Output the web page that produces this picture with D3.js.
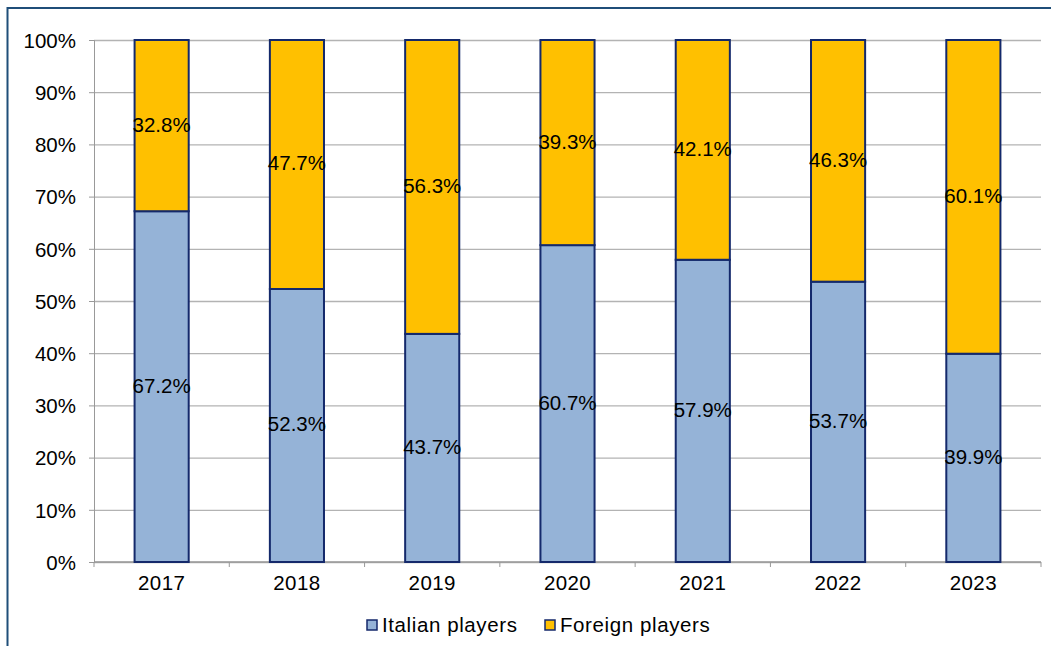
<!DOCTYPE html>
<html>
<head>
<meta charset="utf-8">
<script src="https://cdn.jsdelivr.net/npm/d3@7"></script>
<style>
  body { margin: 0; background: #fff; }
  svg { font-family: "Liberation Sans", Arial, sans-serif; }
</style>
</head>
<body>
<div id="chart"></div>
<script>
// data
var years = ['2017', '2018', '2019', '2020', '2021', '2022', '2023']
var italian = [67.2, 52.3, 43.7, 60.7, 57.9, 53.7, 39.9]
var foreign = [32.8, 47.7, 56.3, 39.3, 42.1, 46.3, 60.1]
var yTicks = [0, 10, 20, 30, 40, 50, 60, 70, 80, 90, 100]
var seriesNames = ['Italian players', 'Foreign players']
var colors = ['#95b3d7', '#ffc000']

var width = 1051
var height = 646
var margin = { top: 40, right: 10, bottom: 84, left: 94 }
var fontSize = '20.5px'

var svg = d3.select("#chart")
  .append("svg")
  .attr("width", width)
  .attr("height", height)

// outer frame
svg.append("rect")
  .attr("x", 7.5)
  .attr("y", 8)
  .attr("width", width)
  .attr("height", height)
  .style("fill", "none")
  .style("stroke", "#1f4e79")
  .style("stroke-width", 2)

var xScale = d3.scaleBand()
  .domain(years)
  .range([margin.left, width - margin.right])
  .paddingInner(0.6)
  .paddingOuter(0.3)

var yScale = d3.scaleLinear()
  .domain([0, 100])
  .range([height - margin.bottom, margin.top])

// grid
var yGrid = d3.axisLeft(yScale)
  .tickValues(yTicks)
  .tickSize(-(width - margin.right - margin.left))
  .tickFormat("")

svg.append("g")
  .attr("transform", `translate(${margin.left},0)`)
  .attr("class", "grid")
  .call(yGrid)
  .call(g => g.select(".domain").remove())
  .selectAll("line")
  .style("stroke", "#b3b3b3")
  .style("stroke-width", 1.3)

// Y axis
var yAxis = d3.axisLeft(yScale)
  .tickValues(yTicks)
  .tickSize(5)
  .tickPadding(13)
  .tickFormat(d => d + '%')

svg.append("g")
  .attr("transform", `translate(${margin.left},0)`)
  .attr("class", "y-axis")
  .call(yAxis)
  .call(g => g.selectAll("line, path").style("stroke", "#999"))
  .selectAll("text")
  .attr("dy", "0.36em")
  .style("font-size", fontSize)
  .style("fill", "#000")

// X axis line with boundary ticks
var xLine = svg.append("g").attr("class", "x-axis")
xLine.append("line")
  .attr("x1", margin.left)
  .attr("x2", width - margin.right)
  .attr("y1", yScale(0))
  .attr("y2", yScale(0))
  .style("stroke", "#999")
  .style("stroke-width", 1.3)

var bounds = d3.range(years.length + 1).map(i => margin.left + i * (width - margin.right - margin.left) / years.length)
xLine.selectAll(".bound")
  .data(bounds)
  .enter()
  .append("line")
  .attr("x1", d => d)
  .attr("x2", d => d)
  .attr("y1", yScale(0))
  .attr("y2", yScale(0) + 5)
  .style("stroke", "#999")

xLine.selectAll(".xlab")
  .data(years)
  .enter()
  .append("text")
  .attr("x", d => xScale(d) + xScale.bandwidth() / 2)
  .attr("y", yScale(0) + 28)
  .attr("text-anchor", "middle")
  .style("font-size", fontSize)
  .style("letter-spacing", "0.4px")
  .text(d => d)

// bars
var rows = years.map((y, i) => ({ year: y, it: italian[i], fo: foreign[i] }))

svg.selectAll(".bar-it")
  .data(rows)
  .enter()
  .append("rect")
  .attr("x", d => xScale(d.year))
  .attr("y", d => yScale(d.it))
  .attr("width", xScale.bandwidth())
  .attr("height", d => yScale(0) - yScale(d.it))
  .style("fill", colors[0])
  .style("stroke", "#14296b")
  .style("stroke-width", 2)

svg.selectAll(".bar-fo")
  .data(rows)
  .enter()
  .append("rect")
  .attr("x", d => xScale(d.year))
  .attr("y", d => yScale(d.it + d.fo))
  .attr("width", xScale.bandwidth())
  .attr("height", d => yScale(d.it) - yScale(d.it + d.fo))
  .style("fill", colors[1])
  .style("stroke", "#14296b")
  .style("stroke-width", 2)

// labels
svg.selectAll(".lab-it")
  .data(rows)
  .enter()
  .append("text")
  .attr("x", d => xScale(d.year) + xScale.bandwidth() / 2)
  .attr("y", d => yScale(d.it / 2) + 6)
  .attr("text-anchor", "middle")
  .style("font-size", fontSize)
  .text(d => d.it.toFixed(1) + '%')

svg.selectAll(".lab-fo")
  .data(rows)
  .enter()
  .append("text")
  .attr("x", d => xScale(d.year) + xScale.bandwidth() / 2)
  .attr("y", d => yScale(d.it + d.fo / 2) + 6)
  .attr("text-anchor", "middle")
  .style("font-size", fontSize)
  .text(d => d.fo.toFixed(1) + '%')

// legend
var legendX = [367, 545]
var legend = svg.selectAll(".legend")
  .data(seriesNames)
  .enter()
  .append("g")
  .attr("transform", (d, i) => `translate(${legendX[i]},${625})`)

legend.append("rect")
  .attr("x", 0)
  .attr("y", -5)
  .attr("width", 10)
  .attr("height", 10)
  .style("fill", (d, i) => colors[i])
  .style("stroke", "#14296b")
  .style("stroke-width", 1.5)

legend.append("text")
  .attr("x", 15)
  .attr("y", 7)
  .style("font-size", fontSize)
  .style("letter-spacing", "0.6px")
  .text(d => d)
</script>
</body>
</html>
